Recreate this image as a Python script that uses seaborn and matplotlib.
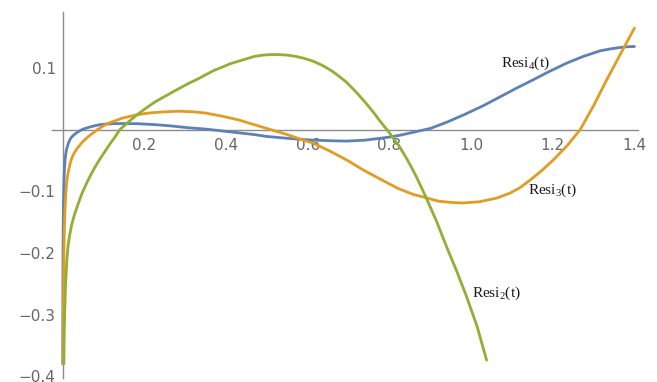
import numpy as np
import pandas as pd
import matplotlib
matplotlib.use("Agg")
import matplotlib.pyplot as plt
from matplotlib.ticker import MultipleLocator, FixedLocator
import seaborn as sns

# Residual curves sampled along t
t_resi4 = [0.0003, 0.0006, 0.001, 0.0015, 0.002, 0.003, 0.004, 0.006, 0.008, 0.01,
           0.014, 0.018, 0.022, 0.03, 0.039, 0.047, 0.055, 0.065, 0.079, 0.09,
           0.104, 0.125, 0.15, 0.185, 0.23, 0.267, 0.31, 0.35, 0.39, 0.43,
           0.47, 0.5, 0.55, 0.614, 0.66, 0.695, 0.74, 0.777, 0.80, 0.826,
           0.86, 0.9, 0.94, 0.985, 1.03, 1.07, 1.11, 1.152, 1.19, 1.234,
           1.275, 1.316, 1.34, 1.36, 1.38, 1.4]
v_resi4 = [-0.38, -0.28, -0.2, -0.15, -0.12, -0.09, -0.07, -0.049, -0.038, -0.031,
           -0.022, -0.016, -0.012, -0.007, -0.003, 0.0, 0.002, 0.004, 0.0065, 0.008,
           0.009, 0.0098, 0.010, 0.0097, 0.008, 0.006, 0.003, 0.001, -0.002, -0.005,
           -0.008, -0.011, -0.014, -0.017, -0.018, -0.0185, -0.017, -0.014, -0.012, -0.009,
           -0.004, 0.002, 0.012, 0.025, 0.039, 0.053, 0.067, 0.081, 0.094, 0.108,
           0.119, 0.128, 0.131, 0.133, 0.1345, 0.135]

t_resi3 = [0.001, 0.0015, 0.002, 0.003, 0.004, 0.005, 0.0065, 0.008, 0.01, 0.012,
           0.015, 0.018, 0.022, 0.026, 0.03, 0.035, 0.04, 0.047, 0.055, 0.065,
           0.075, 0.085, 0.097, 0.11, 0.127, 0.145, 0.18, 0.21, 0.25, 0.283,
           0.32, 0.35, 0.39, 0.43, 0.47, 0.51, 0.55, 0.585, 0.614, 0.655,
           0.695, 0.735, 0.777, 0.82, 0.858, 0.887, 0.92, 0.95, 0.98, 1.02,
           1.063, 1.095, 1.12, 1.144, 1.17, 1.2, 1.235, 1.267, 1.3, 1.332,
           1.365, 1.4]
v_resi3 = [-0.38, -0.32, -0.28, -0.21, -0.17, -0.145, -0.12, -0.102, -0.085, -0.075,
           -0.065, -0.056, -0.047, -0.041, -0.036, -0.031, -0.027, -0.021, -0.016, -0.01,
           -0.005, 0.0, 0.005, 0.010, 0.014, 0.0185, 0.024, 0.027, 0.029, 0.030,
           0.029, 0.027, 0.022, 0.016, 0.008, 0.0, -0.008, -0.016, -0.022, -0.035,
           -0.049, -0.065, -0.08, -0.095, -0.105, -0.11, -0.116, -0.118, -0.119, -0.117,
           -0.111, -0.103, -0.094, -0.082, -0.068, -0.05, -0.026, 0.0, 0.039, 0.081,
           0.122, 0.165]

t_resi2 = [0.003, 0.004, 0.005, 0.007, 0.01, 0.013, 0.017, 0.022, 0.028, 0.035,
           0.047, 0.06, 0.07, 0.079, 0.09, 0.1, 0.116, 0.128, 0.14, 0.16,
           0.18, 0.2, 0.226, 0.25, 0.28, 0.308, 0.33, 0.35, 0.37, 0.389,
           0.41, 0.44, 0.47, 0.49, 0.512, 0.53, 0.55, 0.57, 0.59, 0.614,
           0.637, 0.66, 0.68, 0.695, 0.72, 0.74, 0.76, 0.777, 0.80, 0.826,
           0.845, 0.865, 0.887, 0.915, 0.94, 0.965, 0.989, 1.015, 1.038]
v_resi2 = [-0.38, -0.33, -0.3, -0.255, -0.215, -0.19, -0.172, -0.155, -0.14, -0.126,
           -0.104, -0.085, -0.072, -0.061, -0.049, -0.039, -0.023, -0.012, 0.0, 0.012,
           0.023, 0.033, 0.045, 0.054, 0.065, 0.075, 0.082, 0.089, 0.096, 0.101,
           0.107, 0.113, 0.119, 0.121, 0.122, 0.1218, 0.121, 0.119, 0.116, 0.111,
           0.104, 0.095, 0.085, 0.077, 0.06, 0.045, 0.029, 0.014, -0.005, -0.029,
           -0.05, -0.075, -0.106, -0.148, -0.19, -0.23, -0.271, -0.32, -0.374]

series_names = ["Resi4", "Resi3", "Resi2"]
series_colors = ["#5E81B5", "#E19C24", "#8FB032"]

x_tick_values = [0.2, 0.4, 0.6, 0.8, 1.0, 1.2, 1.4]
y_tick_values = [-0.4, -0.3, -0.2, -0.1, 0.1]

label_texts = [r"Resi$_{4}$(t)", r"Resi$_{3}$(t)", r"Resi$_{2}$(t)"]
label_pos = [(1.133, 0.108), (1.200, -0.099), (1.061, -0.266)]

frames = []
for name, ts, vs in zip(series_names, [t_resi4, t_resi3, t_resi2],
                        [v_resi4, v_resi3, v_resi2]):
    frames.append(pd.DataFrame({"t": ts, "value": vs, "series": name}))
df = pd.concat(frames, ignore_index=True)

sns.set_style("white")
plt.rcParams["font.family"] = ["DejaVu Sans"]
plt.rcParams["mathtext.fontset"] = "custom"
plt.rcParams["mathtext.rm"] = "Liberation Serif"
plt.rcParams["mathtext.it"] = "Liberation Serif:italic"
plt.rcParams["axes.unicode_minus"] = True

fig = plt.figure(figsize=(6.57, 3.82), dpi=100)
ax = fig.add_axes([52 / 657, 4 / 382, 586 / 657, 366 / 382])

sns.lineplot(data=df, x="t", y="value", hue="series", palette=series_colors,
             hue_order=series_names, sort=False, estimator=None,
             linewidth=2.0, legend=False, ax=ax)
for line in ax.get_lines():
    line.set_solid_joinstyle("round")
    line.set_solid_capstyle("round")

ax.set_xlim(-0.026, 1.4086)
ax.set_ylim(-0.403, 0.191)

axis_gray = "#8c8c8c"
for side in ["top", "right"]:
    ax.spines[side].set_visible(False)
ax.spines["left"].set_position(("data", 0))
ax.spines["bottom"].set_position(("data", 0))
for side in ["left", "bottom"]:
    ax.spines[side].set_color(axis_gray)
    ax.spines[side].set_linewidth(1.0)
    ax.spines[side].set_zorder(0)

ax.xaxis.set_major_locator(FixedLocator(x_tick_values))
ax.xaxis.set_minor_locator(MultipleLocator(0.05))
ax.yaxis.set_major_locator(FixedLocator(y_tick_values))
ax.yaxis.set_minor_locator(MultipleLocator(0.02))
ax.set_xticklabels([f"{v:.1f}" for v in x_tick_values])
ax.set_yticklabels([f"{v:.1f}".replace("-", "\u2212") for v in y_tick_values])

ax.tick_params(axis="both", which="major", direction="in", length=5, width=0.9,
               color=axis_gray, labelcolor="#666666", labelsize=11)
ax.tick_params(axis="both", which="minor", direction="in", length=3, width=0.8,
               color=axis_gray)
ax.tick_params(axis="x", which="major", pad=6)
ax.tick_params(axis="y", which="major", pad=5)

ax.set_xlabel("")
ax.set_ylabel("")

for txt, (tx, ty) in zip(label_texts, label_pos):
    ax.text(tx, ty, txt, ha="center", va="center", fontsize=11,
            family="Liberation Serif", color="#1a1a1a")

fig.savefig("out.png", dpi=100)
